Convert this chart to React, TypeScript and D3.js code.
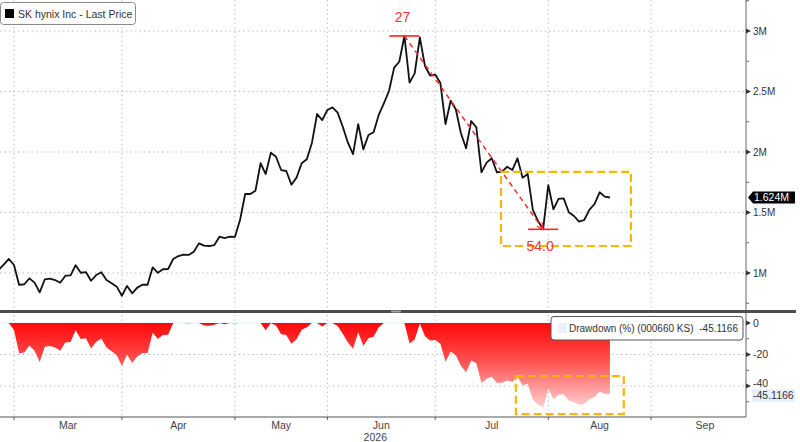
import * as d3 from 'd3';

// SK hynix last price (millions KRW), one value per trading day, starting Feb 25
const price = [
  1.025, 1.07, 1.116,
  // Mar
  1.066, 0.901, 0.907, 0.956, 0.92, 0.84, 0.948, 0.953, 0.942, 0.92, 0.978, 0.981, 1.064, 1.002,
  1.008, 0.936, 0.983, 1.006, 0.942, 0.915, 0.887,
  // Apr
  0.812, 0.893, 0.832, 0.879, 0.903, 0.903, 1.047, 1.002, 1.031, 1.033, 1.116, 1.14, 1.151, 1.149,
  1.176, 1.245, 1.226, 1.223, 1.231, 1.3, 1.289, 1.3,
  // May
  1.298, 1.438, 1.653, 1.653, 1.68, 1.907, 1.818, 1.994, 1.961, 1.851, 1.843, 1.73, 1.788, 1.907,
  1.94, 2.077, 2.314, 2.264,
  // Jun
  2.347, 2.369, 2.325, 2.209, 2.077, 1.983, 2.231, 2.022, 2.14, 2.163, 2.306, 2.402, 2.504, 2.697,
  2.746, 2.959, 2.573, 2.65, 2.948, 2.711, 2.632,
  // Jul
  2.64, 2.57, 2.231, 2.424, 2.353, 2.155, 2.031, 2.256, 2.204, 1.832, 1.912, 1.948, 1.832, 1.837,
  1.878, 1.851, 1.948, 1.788, 1.818, 1.521, 1.43, 1.361,
  // Aug
  1.727, 1.526, 1.612, 1.617, 1.502, 1.471, 1.424, 1.438, 1.521, 1.57, 1.667, 1.631, 1.624,
];
const preMarchDays = 3;
const months = ['Mar', 'Apr', 'May', 'Jun', 'Jul', 'Aug', 'Sep'];
const monthTradingDays = [21, 22, 18, 21, 22, 20, 21];
const priceTicks = [1, 1.5, 2, 2.5, 3];
const priceTickLabels = ['1M', '1.5M', '2M', '2.5M', '3M'];
const priceMinorTicks = [0.75, 1.25, 1.75, 2.25, 2.75, 3.25];
const ddTicks = [0, -20, -40];
const ddMinorTicks = [-10, -30, -50];

// annotation boxes, in data units: [fromDay, toDay, top, bottom]
const priceBox = [97.8, 123.1, 1.835, 1.223];
const ddBox = [100.7, 121.7, -33.7, -57.8];

const W = 800;
const H = 442;
const plotRight = 746;
const font = '"Liberation Sans", Arial, sans-serif';

export default function App() {
  // month boundaries in trading-day index
  const monthStarts: number[] = [];
  let acc = preMarchDays;
  monthTradingDays.forEach((n) => {
    monthStarts.push(acc);
    acc += n;
  });
  const monthEnd = acc;

  const x = d3.scaleLinear().domain([preMarchDays, monthStarts[6]]).range([14, 651]);
  const y = d3.scaleLinear().domain([1, 3]).range([273, 31]);
  const yd = d3.scaleLinear().domain([0, -40]).range([323, 386]);

  // drawdown from running maximum
  let runMax = -Infinity;
  const drawdown = price.map((p) => {
    runMax = Math.max(runMax, p);
    return (p / runMax - 1) * 100;
  });

  const line = d3
    .line<number>()
    .x((_, i) => x(i))
    .y((d) => y(d));
  const area = d3
    .area<number>()
    .x((_, i) => x(i))
    .y0(yd(0))
    .y1((d) => yd(d));

  const peakIdx = d3.maxIndex(price);
  const troughIdx = d3.minIndex(drawdown);
  const last = price.length - 1;
  const lastPrice = price[last];
  const lastDD = drawdown[last];

  const grid = { stroke: '#bdbdbd', strokeWidth: 1, strokeDasharray: '1.5,3' };

  return (
    <div style={{ position: 'absolute', left: 0, top: 0 }}>
      <svg width={W} height={H} style={{ display: 'block', background: '#fff', fontFamily: font }}>
        <defs>
          <linearGradient id="ddFill" gradientUnits="userSpaceOnUse" x1="0" y1={yd(0)} x2="0" y2={yd(-55)}>
            <stop offset="0" stopColor="#ff0808" />
            <stop offset="0.45" stopColor="#ff5252" />
            <stop offset="1" stopColor="#ffd6d6" />
          </linearGradient>
          <clipPath id="clipTop">
            <rect x={0} y={0} width={plotRight} height={310} />
          </clipPath>
          <clipPath id="clipBot">
            <rect x={0} y={313} width={plotRight} height={104} />
          </clipPath>
        </defs>

        {/* vertical grid */}
        {monthStarts.map((m) => (
          <line key={m} x1={x(m)} x2={x(m)} y1={0} y2={417} {...grid} />
        ))}
        {/* horizontal grid */}
        {priceTicks.map((t) => (
          <line key={t} x1={0} x2={plotRight} y1={y(t)} y2={y(t)} {...grid} />
        ))}
        {ddTicks.slice(1).map((t) => (
          <line key={t} x1={0} x2={plotRight} y1={yd(t)} y2={yd(t)} {...grid} />
        ))}
        <line x1={0} x2={plotRight} y1={yd(0)} y2={yd(0)} stroke="#e4eef8" strokeWidth={1} />

        {/* drawdown area */}
        <path d={area(drawdown) || ''} fill="url(#ddFill)" clipPath="url(#clipBot)" />

        {/* price line */}
        <path
          d={line(price) || ''}
          fill="none"
          stroke="#111"
          strokeWidth={1.8}
          strokeLinejoin="round"
          clipPath="url(#clipTop)"
        />

        {/* peak to trough annotation */}
        <line x1={x(peakIdx) - 15} x2={x(peakIdx) + 15} y1={y(price[peakIdx])} y2={y(price[peakIdx])} stroke="#ff2020" strokeWidth={1.6} />
        <line x1={x(troughIdx) - 15} x2={x(troughIdx) + 15} y1={y(price[troughIdx])} y2={y(price[troughIdx])} stroke="#ff2020" strokeWidth={1.6} />
        <line
          x1={x(peakIdx)}
          y1={y(price[peakIdx])}
          x2={x(troughIdx)}
          y2={y(price[troughIdx])}
          stroke="#ff2a2a"
          strokeWidth={1.5}
          strokeDasharray="5,4"
        />
        {(() => {
          const tx = x(troughIdx);
          const ty = y(price[troughIdx]);
          const ang = Math.atan2(ty - y(price[peakIdx]), tx - x(peakIdx));
          const a1 = ang + Math.PI - 0.5;
          const a2 = ang + Math.PI + 0.5;
          return (
            <path
              d={`M${tx + 7 * Math.cos(a1)},${ty + 7 * Math.sin(a1)}L${tx},${ty}L${tx + 7 * Math.cos(a2)},${ty + 7 * Math.sin(a2)}`}
              fill="none"
              stroke="#ff2a2a"
              strokeWidth={1.3}
            />
          );
        })()}
        <text x={x(peakIdx) - 2} y={22} fill="#ff3333" fontSize={14} textAnchor="middle">
          27
        </text>

        {/* highlight boxes */}
        <rect
          x={x(priceBox[0])}
          y={y(priceBox[2])}
          width={x(priceBox[1]) - x(priceBox[0])}
          height={y(priceBox[3]) - y(priceBox[2])}
          fill="none"
          stroke="#fbb600"
          strokeWidth={2.2}
          strokeDasharray="8,4"
        />
        <text x={x(troughIdx) - 3} y={251} fill="#ff3333" fontSize={14} textAnchor="middle">
          {(-drawdown[troughIdx]).toFixed(1)}
        </text>
        <rect
          x={x(ddBox[0])}
          y={yd(ddBox[2])}
          width={x(ddBox[1]) - x(ddBox[0])}
          height={yd(ddBox[3]) - yd(ddBox[2])}
          fill="none"
          stroke="#fbb600"
          strokeWidth={2.2}
          strokeDasharray="8,4"
        />

        {/* separator */}
        <rect x={0} y={310} width={796} height={3} fill="#4d4d4d" />
        <rect x={391} y={310.5} width={10} height={2} fill="#a0a0a0" />

        {/* right axis */}
        <line x1={plotRight} x2={plotRight} y1={0} y2={310} stroke="#666" />
        <line x1={plotRight} x2={plotRight} y1={313} y2={417} stroke="#666" />
        {priceMinorTicks.map((t) => (
          <line key={t} x1={plotRight} x2={plotRight + 3} y1={y(t)} y2={y(t)} stroke="#666" />
        ))}
        {ddMinorTicks.map((t) => (
          <line key={t} x1={plotRight} x2={plotRight + 3} y1={yd(t)} y2={yd(t)} stroke="#666" />
        ))}
        {priceTicks.map((t, i) => (
          <g key={t}>
            <path d={`M${plotRight},${y(t) - 2.5}L${plotRight + 5},${y(t)}L${plotRight},${y(t) + 2.5}Z`} fill="#333" />
            <text x={plotRight + 7} y={y(t) + 3.5} fontSize={10} fill="#333">
              {priceTickLabels[i]}
            </text>
          </g>
        ))}
        {ddTicks.map((t) => (
          <g key={t}>
            <path d={`M${plotRight},${yd(t) - 2.5}L${plotRight + 5},${yd(t)}L${plotRight},${yd(t) + 2.5}Z`} fill="#333" />
            <text x={plotRight + 7} y={t === -40 ? yd(t) + 1 : yd(t) + 3.5} fontSize={10.5} fill="#333">
              {t}
            </text>
          </g>
        ))}

        {/* last value labels */}
        <path
          d={`M${plotRight + 2},${y(lastPrice)}L${plotRight + 7},${y(lastPrice) - 6}H795V${y(lastPrice) + 6}H${plotRight + 7}Z`}
          fill="#000"
        />
        <text x={plotRight + 8} y={y(lastPrice) + 3.8} fontSize={10.5} fill="#fff">
          {lastPrice.toFixed(3)}M
        </text>
        <rect x={plotRight + 6} y={yd(lastDD) - 5} width={43} height={13} fill="#e8f1fa" />
        <text x={plotRight + 7} y={yd(lastDD) + 5} fontSize={10.5} fill="#333">
          {lastDD.toFixed(4)}
        </text>

        {/* bottom axis */}
        <line x1={0} x2={plotRight} y1={417} y2={417} stroke="#555" strokeWidth={1.2} />
        {monthStarts.map((m) => (
          <line key={m} x1={x(m)} x2={x(m)} y1={417} y2={420} stroke="#555" />
        ))}
        {months.map((m, i) => (
          <text
            key={m}
            x={x((monthStarts[i] + (i < 6 ? monthStarts[i + 1] : monthEnd)) / 2)}
            y={429}
            fontSize={10.5}
            fill="#444"
            textAnchor="middle"
          >
            {m}
          </text>
        ))}
        <text x={x((monthStarts[3] + monthStarts[4]) / 2) - 6} y={441} fontSize={10.5} fill="#444" textAnchor="middle">
          2026
        </text>

        {/* legends */}
        <rect x={0.5} y={2.5} width={135} height={22} rx={3} fill="#fff" stroke="#8a8a8a" />
        <rect x={5} y={9} width={9} height={9} fill="#000" />
        <text x={18} y={17.5} fontSize={10.5} fill="#333">
          SK hynix Inc - Last Price
        </text>
        <rect x={551} y={316.5} width={192} height={23.5} rx={3} fill="#fff" stroke="#555" />
        <rect x={558} y={323} width={9} height={10} fill="#eaf3fd" />
        <text x={569} y={332} fontSize={10} fill="#333">
          Drawdown (%) (000660 KS)
        </text>
        <text x={738} y={332} fontSize={10} fill="#333" textAnchor="end">
          {lastDD.toFixed(4)}
        </text>
      </svg>
    </div>
  );
}
